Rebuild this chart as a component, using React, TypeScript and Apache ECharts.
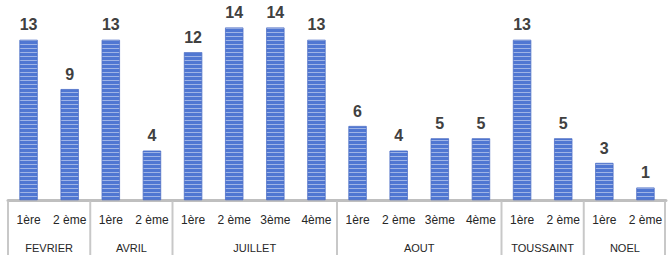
import React, { useEffect, useRef } from "react";
import * as echarts from "echarts";

const subLabels = [
  "1ère", "2 ème",
  "1ère", "2 ème",
  "1ère", "2 ème", "3ème", "4ème",
  "1ère", "2 ème", "3ème", "4ème",
  "1ère", "2 ème",
  "1ère", "2 ème",
];
const values = [13, 9, 13, 4, 12, 14, 14, 13, 6, 4, 5, 5, 13, 5, 3, 1];
const groupNames = ["FEVRIER", "AVRIL", "JUILLET", "AOUT", "TOUSSAINT", "NOEL"];
const groupStarts = [0, 2, 4, 8, 12, 14];
const groupEnds = [1, 3, 7, 11, 13, 15];

export default function App() {
  const ref = useRef<HTMLDivElement>(null);
  useEffect(() => {
    if (!ref.current) return;
    const chart = echarts.init(ref.current, null, { renderer: "svg" });
    const groupData = groupNames.map((n, i) => ({
      name: n,
      value: [groupStarts[i], 0, groupEnds[i]],
    }));
    const last = groupNames.length - 1;
    chart.setOption({
      animation: false,
      grid: { left: 8, right: 2, top: 3, bottom: 55, containLabel: false },
      xAxis: {
        type: "category",
        data: subLabels,
        axisLine: { show: true, lineStyle: { color: "#bfbfbf", width: 3 } },
        axisTick: { show: false },
        axisLabel: {
          interval: 0,
          margin: 14,
          fontSize: 12,
          color: "#262626",
          fontFamily: "Liberation Sans",
        },
      },
      yAxis: {
        type: "value",
        min: 0,
        max: 16,
        show: false,
        splitLine: { show: false },
      },
      series: [
        {
          type: "bar",
          data: values,
          barWidth: 18,
          itemStyle: {
            color: "#5077d2",
            borderColor: "#4a6cc4",
            borderWidth: 0.5,
            decal: {
              symbol: "rect",
              symbolSize: 1,
              dashArrayX: [1, 0],
              dashArrayY: [1, 3],
              rotation: 0,
              color: "rgba(255,255,255,0.45)",
            },
          },
          label: {
            show: true,
            position: "top",
            distance: 7,
            fontSize: 16,
            fontWeight: "bold",
            color: "#404040",
            fontFamily: "Liberation Sans",
          },
        },
        {
          type: "custom",
          clip: false,
          silent: true,
          data: groupData,
          encode: { x: 0, y: 1 },
          renderItem: (params: any, api: any) => {
            const s = api.value(0);
            const e = api.value(2);
            const bw = api.size([1, 0])[0];
            const p0 = api.coord([s, 0]);
            const p1 = api.coord([e, 0]);
            const left = p0[0] - bw / 2;
            const right = p1[0] + bw / 2;
            const y0 = p0[1] + 1.5;
            const children: any[] = [
              {
                type: "line",
                shape: { x1: left, y1: y0, x2: left, y2: y0 + 60 },
                style: { stroke: "#c8c8c8", lineWidth: 2 },
              },
              {
                type: "text",
                style: {
                  text: groupNames[params.dataIndex],
                  x: (left + right) / 2,
                  y: y0 + 46,
                  align: "center",
                  verticalAlign: "middle",
                  fontSize: 11,
                  fill: "#262626",
                  fontFamily: "Liberation Sans",
                },
              },
            ];
            if (params.dataIndex === last) {
              children.push({
                type: "line",
                shape: { x1: right - 1, y1: y0, x2: right - 1, y2: y0 + 60 },
                style: { stroke: "#c8c8c8", lineWidth: 2 },
              });
            }
            return { type: "group", children };
          },
        },
      ],
    });
    return () => chart.dispose();
  }, []);
  return <div ref={ref} style={{ width: 668, height: 255, position: "absolute", left: 0, top: 0 }} />;
}
